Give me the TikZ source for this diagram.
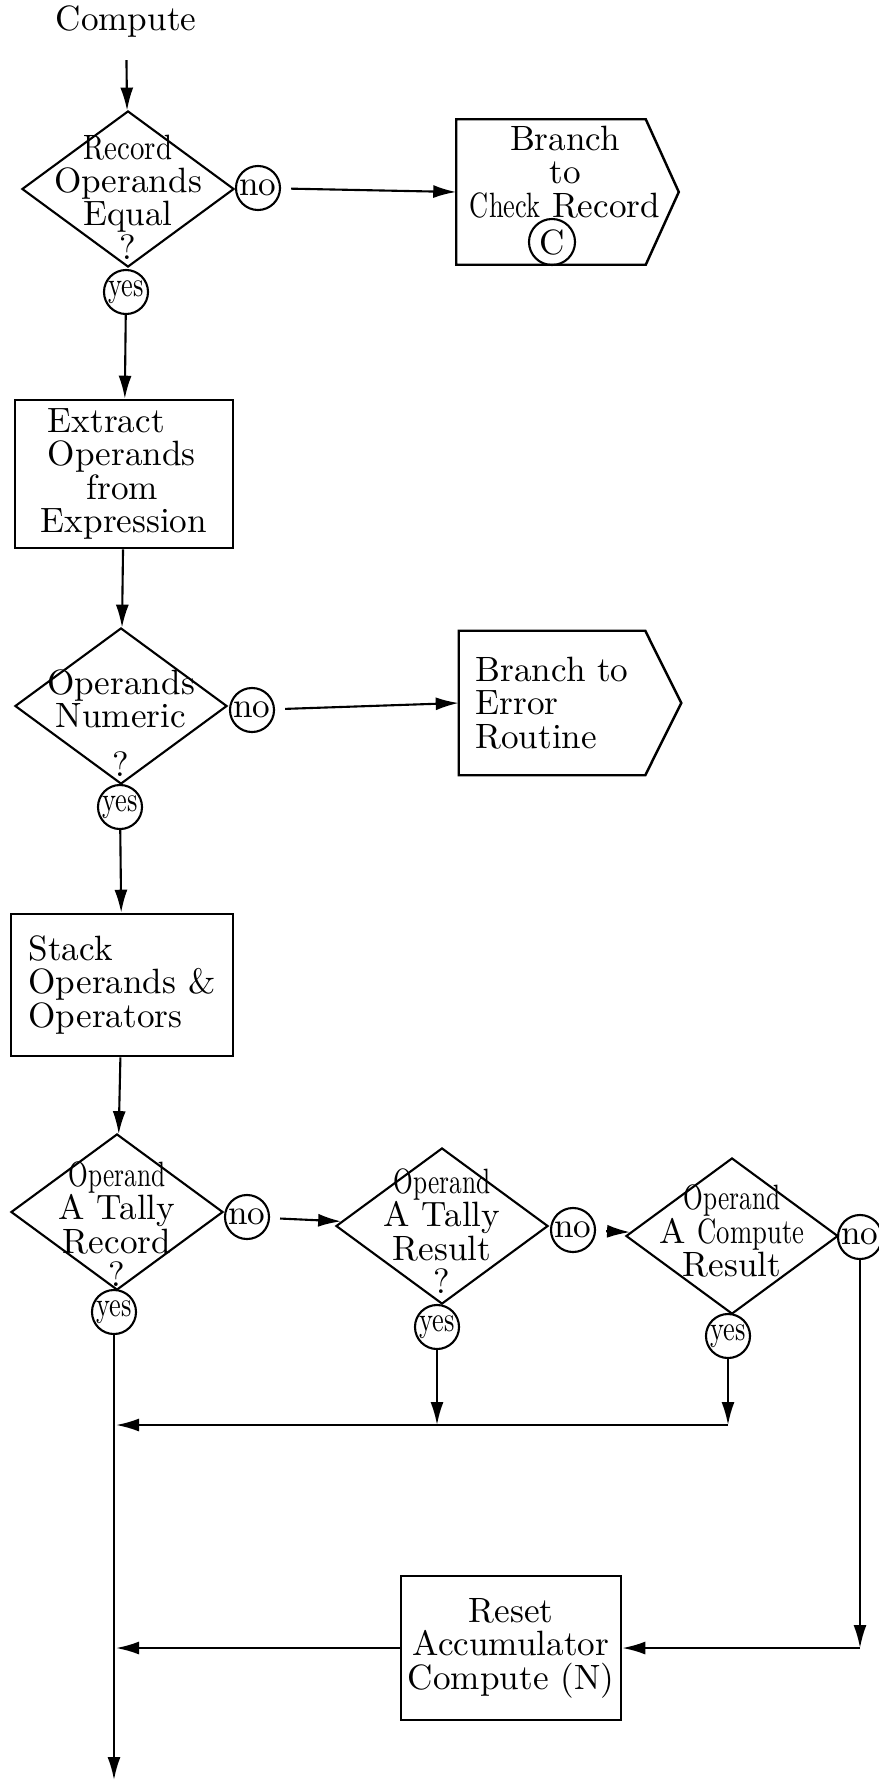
\documentclass[tikz,border=0pt]{standalone}
\usepackage{graphicx}
\usetikzlibrary{shapes.geometric, arrows.meta}

\newcommand{\tightword}[2][0.72]{\scalebox{#1}[1]{#2}}

\begin{document}
\begin{tikzpicture}[x=0.01cm, y=-0.01cm,
  font=\fontsize{10}{9.5}\selectfont,
  every node/.style={align=center},
  arr/.style={-{Latex[length=2.3mm,width=1.3mm]}, line width=0.6pt},
  decision/.style={diamond, draw, line width=0.6pt, minimum width=2.12cm, minimum height=1.56cm, inner sep=0pt},
  procbox/.style={rectangle, draw, line width=0.7pt, minimum width=#1, minimum height=1.44cm, inner sep=0pt},
  branchbox/.style={rectangle, draw=none, minimum width=1.88cm, minimum height=1.44cm, inner sep=0pt},
  ans/.style={circle, draw, line width=0.6pt, minimum size=0.44cm, inner sep=0pt}]

\useasboundingbox (0,0) rectangle (879,1782);

% entry
\node (start) at (126,22) {Compute};

% first test
\node[decision, label={[yshift=-0.08cm]center:\tightword[0.82]{Record}\\Operands\\Equal\\?}] (d1) at (128,189) {};
\node[ans] (no1) at (258,188) {no};
\node[ans] (yes1) at (126,292) {\tightword[0.75]{yes}};
\node[branchbox, label={[xshift=0.14cm, yshift=0.2cm, inner sep=1pt]center:Branch\\to\\\tightword[0.75]{Check} Record}] (b1) at (551,192) {};
\draw[line width=0.7pt] (b1.north west) -- (b1.north east) -- ([xshift=0.33cm]b1.east) -- (b1.south east) -- (b1.south west) -- cycle;
\node[ans, minimum size=0.46cm] (c1) at (552,242) {C};

% extract
\node[procbox=2.18cm, minimum height=1.48cm, align=left] (ext) at (124,474) {\hspace*{0.2em}Extract\\\hspace*{0.2em}Operands\\\hspace*{1.3em}from\\Expression};

% second test
\node[decision, label={[yshift=-0.17cm]center:Operands\\Numeric\\[0.15cm]?}] (d2) at (121,706) {};
\node[ans] (no2) at (252,710) {no};
\node[ans] (yes2) at (120,807) {\tightword[0.75]{yes}};
\node[branchbox, minimum width=1.85cm, minimum height=1.43cm, align=left] (b2) at (552,703) {Branch to\\Error\\Routine};
\draw[line width=0.7pt] (b2.north west) -- (b2.north east) -- ([xshift=0.36cm]b2.east) -- (b2.south east) -- (b2.south west) -- cycle;

% stack
\node[procbox=2.22cm, minimum height=1.42cm, align=left] (stk) at (122,985) {Stack\\Operands \&\\Operators};

% operand tests
\node[decision, label={[yshift=-0.12cm]center:\tightword{Operand}\\A Tally\\Record\\?}] (d3) at (117,1212) {};
\node[ans] (no3) at (247,1217) {no};
\node[ans] (yes3) at (114,1312) {\tightword[0.75]{yes}};

\node[decision, label={[yshift=-0.05cm]center:\tightword{Operand}\\A Tally\\Result\\?}] (d4) at (442,1226) {};
\node[ans] (no4) at (573,1230) {no};
\node[ans] (yes4) at (437,1327) {\tightword[0.75]{yes}};

\node[decision, label={[yshift=0.05cm]center:\tightword{Operand}\\A \tightword[0.76]{Compute}\\Result}] (d5) at (732,1236) {};
\node[ans] (no5) at (860,1237) {no};
\node[ans] (yes5) at (728,1336) {\tightword[0.75]{yes}};

% reset
\node[procbox=2.2cm] (reset) at (511,1648) {Reset\\Accumulator\\Compute (N)};

% junctions
\coordinate (j4) at (437,1425);
\coordinate (j5) at (728,1425);
\coordinate (jm) at (116,1425);
\coordinate (k5) at (860,1648);
\coordinate (jr) at (116,1648);
\coordinate (out) at (114,1780);

% connectors
\draw[arr, shorten <=1mm] (start) -- (d1);
\draw[arr, shorten <=1mm] (no1) -- (b1.west);
\draw[arr] (yes1) -- (ext);
\draw[arr] (ext) -- (d2);
\draw[arr, shorten <=1mm] (no2) -- (b2.west);
\draw[arr] (yes2) -- (stk);
\draw[arr] (stk) -- (d3);
\draw[arr, shorten <=1mm] (no3) -- (d4);
\draw[arr, shorten <=1mm] (no4) -- (d5);
\draw[arr] (yes3) -- (out);
\draw[arr] (yes4) -- (j4);
\draw[arr] (yes5) -- (j5);
\draw[arr] (j5) -- (jm);
\draw[arr] (no5) -- (k5);
\draw[arr] (k5) -- (reset);
\draw[arr] (reset) -- (jr);

\end{tikzpicture}
\end{document}
